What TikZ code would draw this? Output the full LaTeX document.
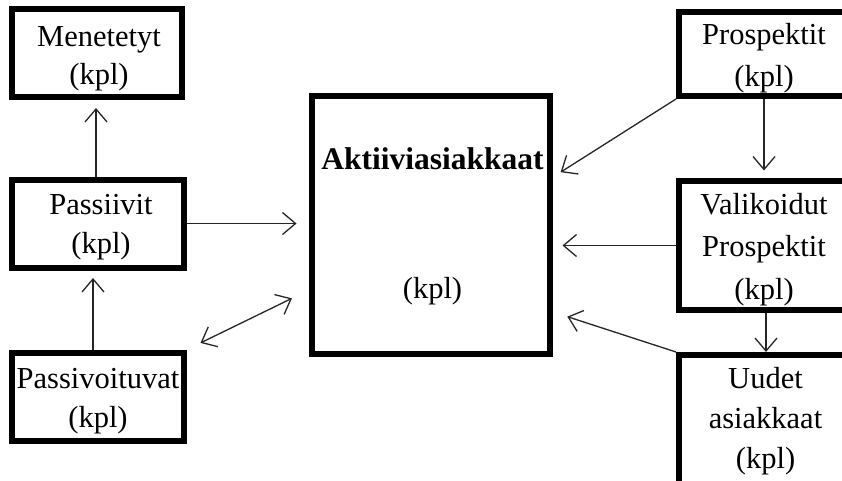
\documentclass[tikz,border=0pt]{standalone}
\usepackage{fontspec}
\setmainfont{Liberation Serif}
\usetikzlibrary{arrows.meta}
\begin{document}
\begin{tikzpicture}[x=1pt,y=-1pt,
  box/.style={draw, line width=6pt, inner sep=0pt, rectangle},
  lbl/.style={anchor=base, inner sep=0pt, font=\fontsize{30.5}{36}\selectfont},
  blbl/.style={anchor=base, inner sep=0pt, font=\fontsize{31.5}{36}\selectfont\bfseries},
  tip/.tip={Straight Barb[length=13pt,width=22pt,line width=1.3pt]},
  arr/.style={draw=black!85, line width=1.3pt, -tip},
  darr/.style={draw=black!85, line width=1.3pt, tip-tip}]
\useasboundingbox (0,0) rectangle (842,481);
\clip (0,0) rectangle (842,481);
\fill[white] (0,0) rectangle (842,481);
% boxes
\node[box, minimum width=170pt, minimum height=88pt] (men) at (97,53) {};
\node[box, minimum width=172pt, minimum height=88pt] (pas) at (98,223.5) {};
\node[box, minimum width=172pt, minimum height=88pt] (pvt) at (98,396.5) {};
\node[box, minimum width=238pt, minimum height=258pt] (akt) at (431,225) {};
\node[box, minimum width=172pt, minimum height=84pt] (pro) at (765,54) {};
\node[box, minimum width=172pt, minimum height=129pt] (val) at (765,245.5) {};
\node[box, minimum width=172pt, minimum height=165pt] (uud) at (765,437.5) {};
% labels
\node[lbl] (men1) at (99,47) {Menetetyt};
\node[lbl] (men2) at (99,85) {(kpl)};
\node[lbl] (pas1) at (101,214) {Passiivit};
\node[lbl] (pas2) at (101,253) {(kpl)};
\node[lbl] (pvt1) at (98,388) {Passivoituvat};
\node[lbl] (pvt2) at (98,427) {(kpl)};
\node[blbl] (akt1) at (432.5,170) {Aktiiviasiakkaat};
\node[lbl] (akt2) at (432.5,298) {(kpl)};
\node[lbl] (pro1) at (764,45) {Prospektit};
\node[lbl] (pro2) at (764,87) {(kpl)};
\node[lbl] (val1) at (764,214) {Valikoidut};
\node[lbl] (val2) at (764,256) {Prospektit};
\node[lbl] (val3) at (764,299) {(kpl)};
\node[lbl] (uud1) at (765.5,388) {Uudet};
\node[lbl] (uud2) at (765.5,428) {asiakkaat};
\node[lbl] (uud3) at (765.5,468) {(kpl)};
% connectors
\draw[arr, shorten >=8pt] ([xshift=-2pt]pas.north) -- ([xshift=-1pt]men.south);
\draw[arr, shorten >=12.5pt] (pas.east) -- (pas.east -| akt.west);
\draw[arr, shorten >=7.5pt] ([xshift=-5pt]pvt.north) -- ([xshift=-5pt]pas.south);
\draw[darr, shorten <=15pt, shorten >=19pt] (pvt.north east) -- ([yshift=-65pt]akt.west);
\draw[arr, shorten >=9pt] (pro.south west) -- ([yshift=48pt]akt.east);
\draw[arr, shorten >=7.5pt] ([xshift=-1pt]pro.south) -- ([xshift=-1pt]val.north);
\draw[arr] ([xshift=1pt]val.south) -- ([xshift=1pt]uud.north);
\draw[arr, shorten >=9.5pt] (val.west) -- (val.west -| akt.east);
\draw[arr, shorten >=15pt] (uud.north west) -- ([yshift=-87pt]akt.east);
\end{tikzpicture}
\end{document}
